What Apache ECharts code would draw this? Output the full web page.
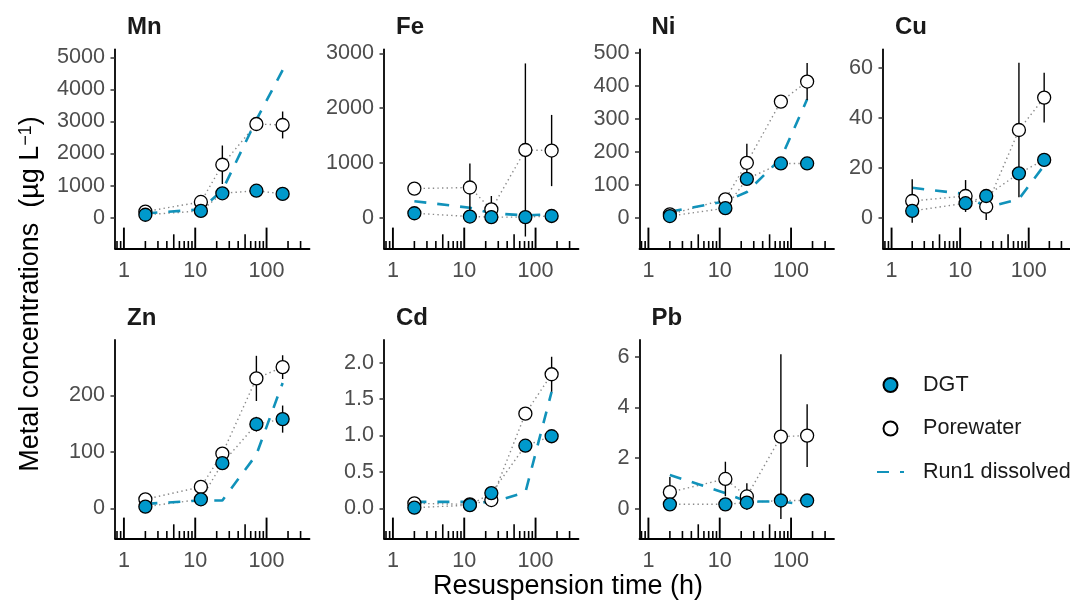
<!DOCTYPE html>
<html>
<head>
<meta charset="utf-8">
<script src="https://cdn.jsdelivr.net/npm/echarts@6/dist/echarts.min.js"></script>
<style>
  html, body { margin: 0; padding: 0; background: #ffffff; }
  #chart { width: 1070px; height: 601px; }
</style>
</head>
<body>
<div id="chart"></div>
<script>
// ---------------- data ----------------
const times = [2, 12, 24, 72, 168];
const xTickLabels = [1, 10, 100];
const logTicks = [0.8, 0.9, 1, 2, 3, 4, 5, 6, 7, 8, 9, 10, 20, 30, 40, 50, 60, 70, 80, 90, 100, 200, 300];
const logTickKinds = [0, 0, 2, 0, 0, 0, 1, 0, 0, 0, 0, 2, 0, 0, 0, 1, 0, 0, 0, 0, 2, 0, 0];

const mnDGT = [90, 210, 760, 840, 740];
const mnDGTerr = [0, 0, 0, 0, 0];
const mnPW = [190, 490, 1650, 2920, 2890];
const mnPWerr = [0, 0, 600, 0, 420];
const mnRun1 = [130, 260, 850, 3050, 4600];
const mnTicks = [0, 1000, 2000, 3000, 4000, 5000];

const feDGT = [80, 20, 10, 10, 30];
const feDGTerr = [0, 0, 0, 0, 0];
const fePW = [530, 550, 150, 1235, 1225];
const fePWerr = [0, 440, 245, 1580, 650];
const feRun1 = [300, 180, 80, 40, 60];
const feTicks = [0, 1000, 2000, 3000];

const niDGT = [5, 29, 118, 165, 165];
const niDGTerr = [0, 0, 0, 0, 0];
const niPW = [10, 56, 167, 353, 414];
const niPWerr = [0, 0, 58, 0, 56];
const niRun1 = [18, 50, 78, 180, 360];
const niTicks = [0, 100, 200, 300, 400, 500];

const cuDGT = [2.7, 5.8, 8.7, 17.8, 23.2];
const cuDGTerr = [0, 0, 0, 0, 0];
const cuPW = [6.7, 8.7, 4.4, 35.2, 48.2];
const cuPWerr = [8.7, 6.4, 5.3, 27, 10];
const cuRun1 = [12, 9.5, 4, 7.5, 21];
const cuTicks = [0, 20, 40, 60];

const znDGT = [3, 16, 80, 149, 158];
const znDGTerr = [0, 0, 0, 13, 24];
const znPW = [16, 38, 97, 230, 250];
const znPWerr = [0, 0, 0, 40, 21];
const znRun1 = [8, 14, 14, 95, 222];
const znTicks = [0, 100, 200];

const cdDGT = [0.01, 0.045, 0.21, 0.86, 0.99];
const cdDGTerr = [0, 0, 0, 0, 0];
const cdPW = [0.07, 0.055, 0.115, 1.30, 1.84];
const cdPWerr = [0, 0, 0, 0, 0.24];
const cdRun1 = [0.09, 0.09, 0.08, 0.22, 1.6];
const cdTicks = [0, 0.5, 1.0, 1.5, 2.0];

const pbDGT = [0.18, 0.18, 0.25, 0.33, 0.33];
const pbDGTerr = [0, 0, 0, 0, 0];
const pbPW = [0.66, 1.18, 0.49, 2.85, 2.89];
const pbPWerr = [0.6, 0.68, 0.52, 3.25, 1.24];
const pbRun1 = [1.34, 0.62, 0.29, 0.29, 0.16];
const pbTicks = [0, 2, 4, 6];

// ---------------- layout / styling ----------------
const FONT = '"Liberation Sans", Arial, sans-serif';
const BLUE = '#0099CC';
const DASH_BLUE = '#1192BA';
const panelW = 194.5;
const colLeft = [115, 384, 639.5, 883];
const rowTop = [49.3, 340];
const rowH = [199, 198.3];

const panels = [
  { name: 'Mn', dgt: mnDGT, dgtErr: mnDGTerr, pw: mnPW, pwErr: mnPWerr, run1: mnRun1, ticks: mnTicks, ymin: -956, ymax: 5250, dec: 0, row: 0, col: 0 },
  { name: 'Fe', dgt: feDGT, dgtErr: feDGTerr, pw: fePW, pwErr: fePWerr, run1: feRun1, ticks: feTicks, ymin: -560, ymax: 3073, dec: 0, row: 0, col: 1 },
  { name: 'Ni', dgt: niDGT, dgtErr: niDGTerr, pw: niPW, pwErr: niPWerr, run1: niRun1, ticks: niTicks, ymin: -93, ymax: 512, dec: 0, row: 0, col: 2 },
  { name: 'Cu', dgt: cuDGT, dgtErr: cuDGTerr, pw: cuPW, pwErr: cuPWerr, run1: cuRun1, ticks: cuTicks, ymin: -12.3, ymax: 67.6, dec: 0, row: 0, col: 3 },
  { name: 'Zn', dgt: znDGT, dgtErr: znDGTerr, pw: znPW, pwErr: znPWerr, run1: znRun1, ticks: znTicks, ymin: -53, ymax: 298, dec: 0, row: 1, col: 0 },
  { name: 'Cd', dgt: cdDGT, dgtErr: cdDGTerr, pw: cdPW, pwErr: cdPWerr, run1: cdRun1, ticks: cdTicks, ymin: -0.41, ymax: 2.31, dec: 1, row: 1, col: 1 },
  { name: 'Pb', dgt: pbDGT, dgtErr: pbDGTerr, pw: pbPW, pwErr: pbPWerr, run1: pbRun1, ticks: pbTicks, ymin: -1.16, ymax: 6.66, dec: 0, row: 1, col: 2 }
];

const TICK_LEN = [7.3, 14, 20.7];

const grids = [], xAxes = [], yAxes = [], series = [], titles = [];

panels.forEach((p, i) => {
  const left = colLeft[p.col], top = rowTop[p.row], h = rowH[p.row];
  grids.push({ left: left, top: top, width: panelW, height: h, containLabel: false });
  titles.push({
    text: p.name, left: left + 12, top: top - 33.5, padding: 0,
    textStyle: { fontFamily: FONT, fontSize: 24, fontWeight: 'bold', color: '#1a1a1a' }
  });
  xAxes.push({
    type: 'log', logBase: 10, gridIndex: i, min: 0.75, max: 400,
    axisLine: { show: true, onZero: false, lineStyle: { color: '#000', width: 1.8 } },
    axisTick: { show: false },
    minorTick: { show: false },
    splitLine: { show: false },
    axisLabel: {
      show: true, margin: 12, fontFamily: FONT, fontSize: 21.6, color: '#4D4D4D',
      showMinLabel: false, showMaxLabel: false,
      formatter: v => (xTickLabels.indexOf(Math.round(v * 1000) / 1000) >= 0 ? String(Math.round(v)) : '')
    }
  });
  yAxes.push({
    type: 'value', gridIndex: i, min: p.ymin, max: p.ymax,
    axisLine: { show: true, onZero: false, lineStyle: { color: '#000', width: 1.8 } },
    axisTick: { show: true, length: 4.5, customValues: p.ticks, lineStyle: { color: '#333', width: 1.5 } },
    splitLine: { show: false },
    axisLabel: {
      show: true, customValues: p.ticks, margin: 10, fontFamily: FONT, fontSize: 21.6, color: '#4D4D4D',
      formatter: v => Number(v).toFixed(p.dec)
    }
  });

  // log ticks (annotation)
  series.push({
    type: 'custom', xAxisIndex: i, yAxisIndex: i, silent: true, z: 6,
    data: logTicks.map(t => [t, 0]),
    encode: { x: 0, y: 1 },
    renderItem: (params, api) => {
      const x = api.coord([logTicks[params.dataIndex], 0])[0];
      const cs = params.coordSys;
      const bottom = cs.y + cs.height;
      const k = logTickKinds[params.dataIndex];
      return { type: 'line', shape: { x1: x, y1: bottom, x2: x, y2: bottom - TICK_LEN[k] },
        style: { stroke: '#000', lineWidth: k === 2 ? 1.9 : 1.6 } };
    }
  });

  // dotted connectors
  [p.dgt, p.pw].forEach(arr => {
    series.push({
      type: 'line', xAxisIndex: i, yAxisIndex: i, silent: true, symbol: 'none', z: 2,
      data: times.map((t, k) => [t, arr[k]]),
      lineStyle: { color: '#8a8a8a', width: 1.4, type: [1.4, 3.2] }
    });
  });

  // Run1 dissolved dashed
  series.push({
    name: 'Run1 dissolved', type: 'line', xAxisIndex: i, yAxisIndex: i, silent: true, symbol: 'none', z: 2,
    data: times.map((t, k) => [t, p.run1[k]]),
    itemStyle: { color: DASH_BLUE },
    lineStyle: { color: DASH_BLUE, width: 2.6, type: [12, 11], cap: 'butt' }
  });

  // error bars
  [[p.pw, p.pwErr], [p.dgt, p.dgtErr]].forEach(([v, e]) => {
    const d = [];
    times.forEach((t, k) => { if (e[k] > 0) d.push([t, v[k] - e[k], v[k] + e[k]]); });
    series.push({
      type: 'custom', xAxisIndex: i, yAxisIndex: i, silent: true, z: 3,
      data: d, encode: { x: 0, y: [1, 2] },
      renderItem: (params, api) => {
        const a = api.coord([api.value(0), api.value(1)]);
        const b = api.coord([api.value(0), api.value(2)]);
        return { type: 'line', shape: { x1: a[0], y1: a[1], x2: b[0], y2: b[1] },
          style: { stroke: '#000', lineWidth: 1.4 } };
      }
    });
  });

  // points
  series.push({
    name: 'Porewater', type: 'scatter', xAxisIndex: i, yAxisIndex: i, symbol: 'circle', symbolSize: 13, z: 4,
    data: times.map((t, k) => [t, p.pw[k]]),
    itemStyle: { color: '#ffffff', borderColor: '#000', borderWidth: 1.3, opacity: 1 }
  });
  series.push({
    name: 'DGT', type: 'scatter', xAxisIndex: i, yAxisIndex: i, symbol: 'circle', symbolSize: 13, z: 5,
    data: times.map((t, k) => [t, p.dgt[k]]),
    itemStyle: { color: BLUE, borderColor: '#000', borderWidth: 1.3, opacity: 1 }
  });
});

const chart = echarts.init(document.getElementById('chart'), null, { renderer: 'canvas' });
chart.setOption({
  animation: false,
  backgroundColor: '#ffffff',
  title: titles,
  grid: grids,
  xAxis: xAxes,
  yAxis: yAxes,
  series: series,
  legend: {
    data: [
      'DGT',
      'Porewater',
      { name: 'Run1 dissolved', itemStyle: { color: 'rgba(0,0,0,0)', borderColor: 'rgba(0,0,0,0)', borderWidth: 0, opacity: 0 } }
    ],
    orient: 'vertical', left: 876, top: 374, padding: 0,
    itemWidth: 27, itemHeight: 14, itemGap: 21.5, selectedMode: false,
    textStyle: { fontFamily: FONT, fontSize: 21.6, color: '#1a1a1a', padding: [0, 0, 0, 14] }
  },
  graphic: [
    {
      type: 'text', x: 568, y: 587,
      style: { text: 'Resuspension time (h)', fontFamily: FONT, fontSize: 27, fill: '#000',
        textAlign: 'center', textVerticalAlign: 'middle' }
    },
    {
      type: 'text', x: 31, y: 294, rotation: Math.PI / 2,
      style: {
        text: 'Metal concentrations  (µg L{sup|−1})', fontFamily: FONT, fontSize: 27, fill: '#000',
        textAlign: 'center', textVerticalAlign: 'middle',
        rich: { sup: { fontFamily: FONT, fontSize: 18, fill: '#000', verticalAlign: 'top', padding: [0, 0, 10, 0] } }
      }
    }
  ]
});
</script>
</body>
</html>
